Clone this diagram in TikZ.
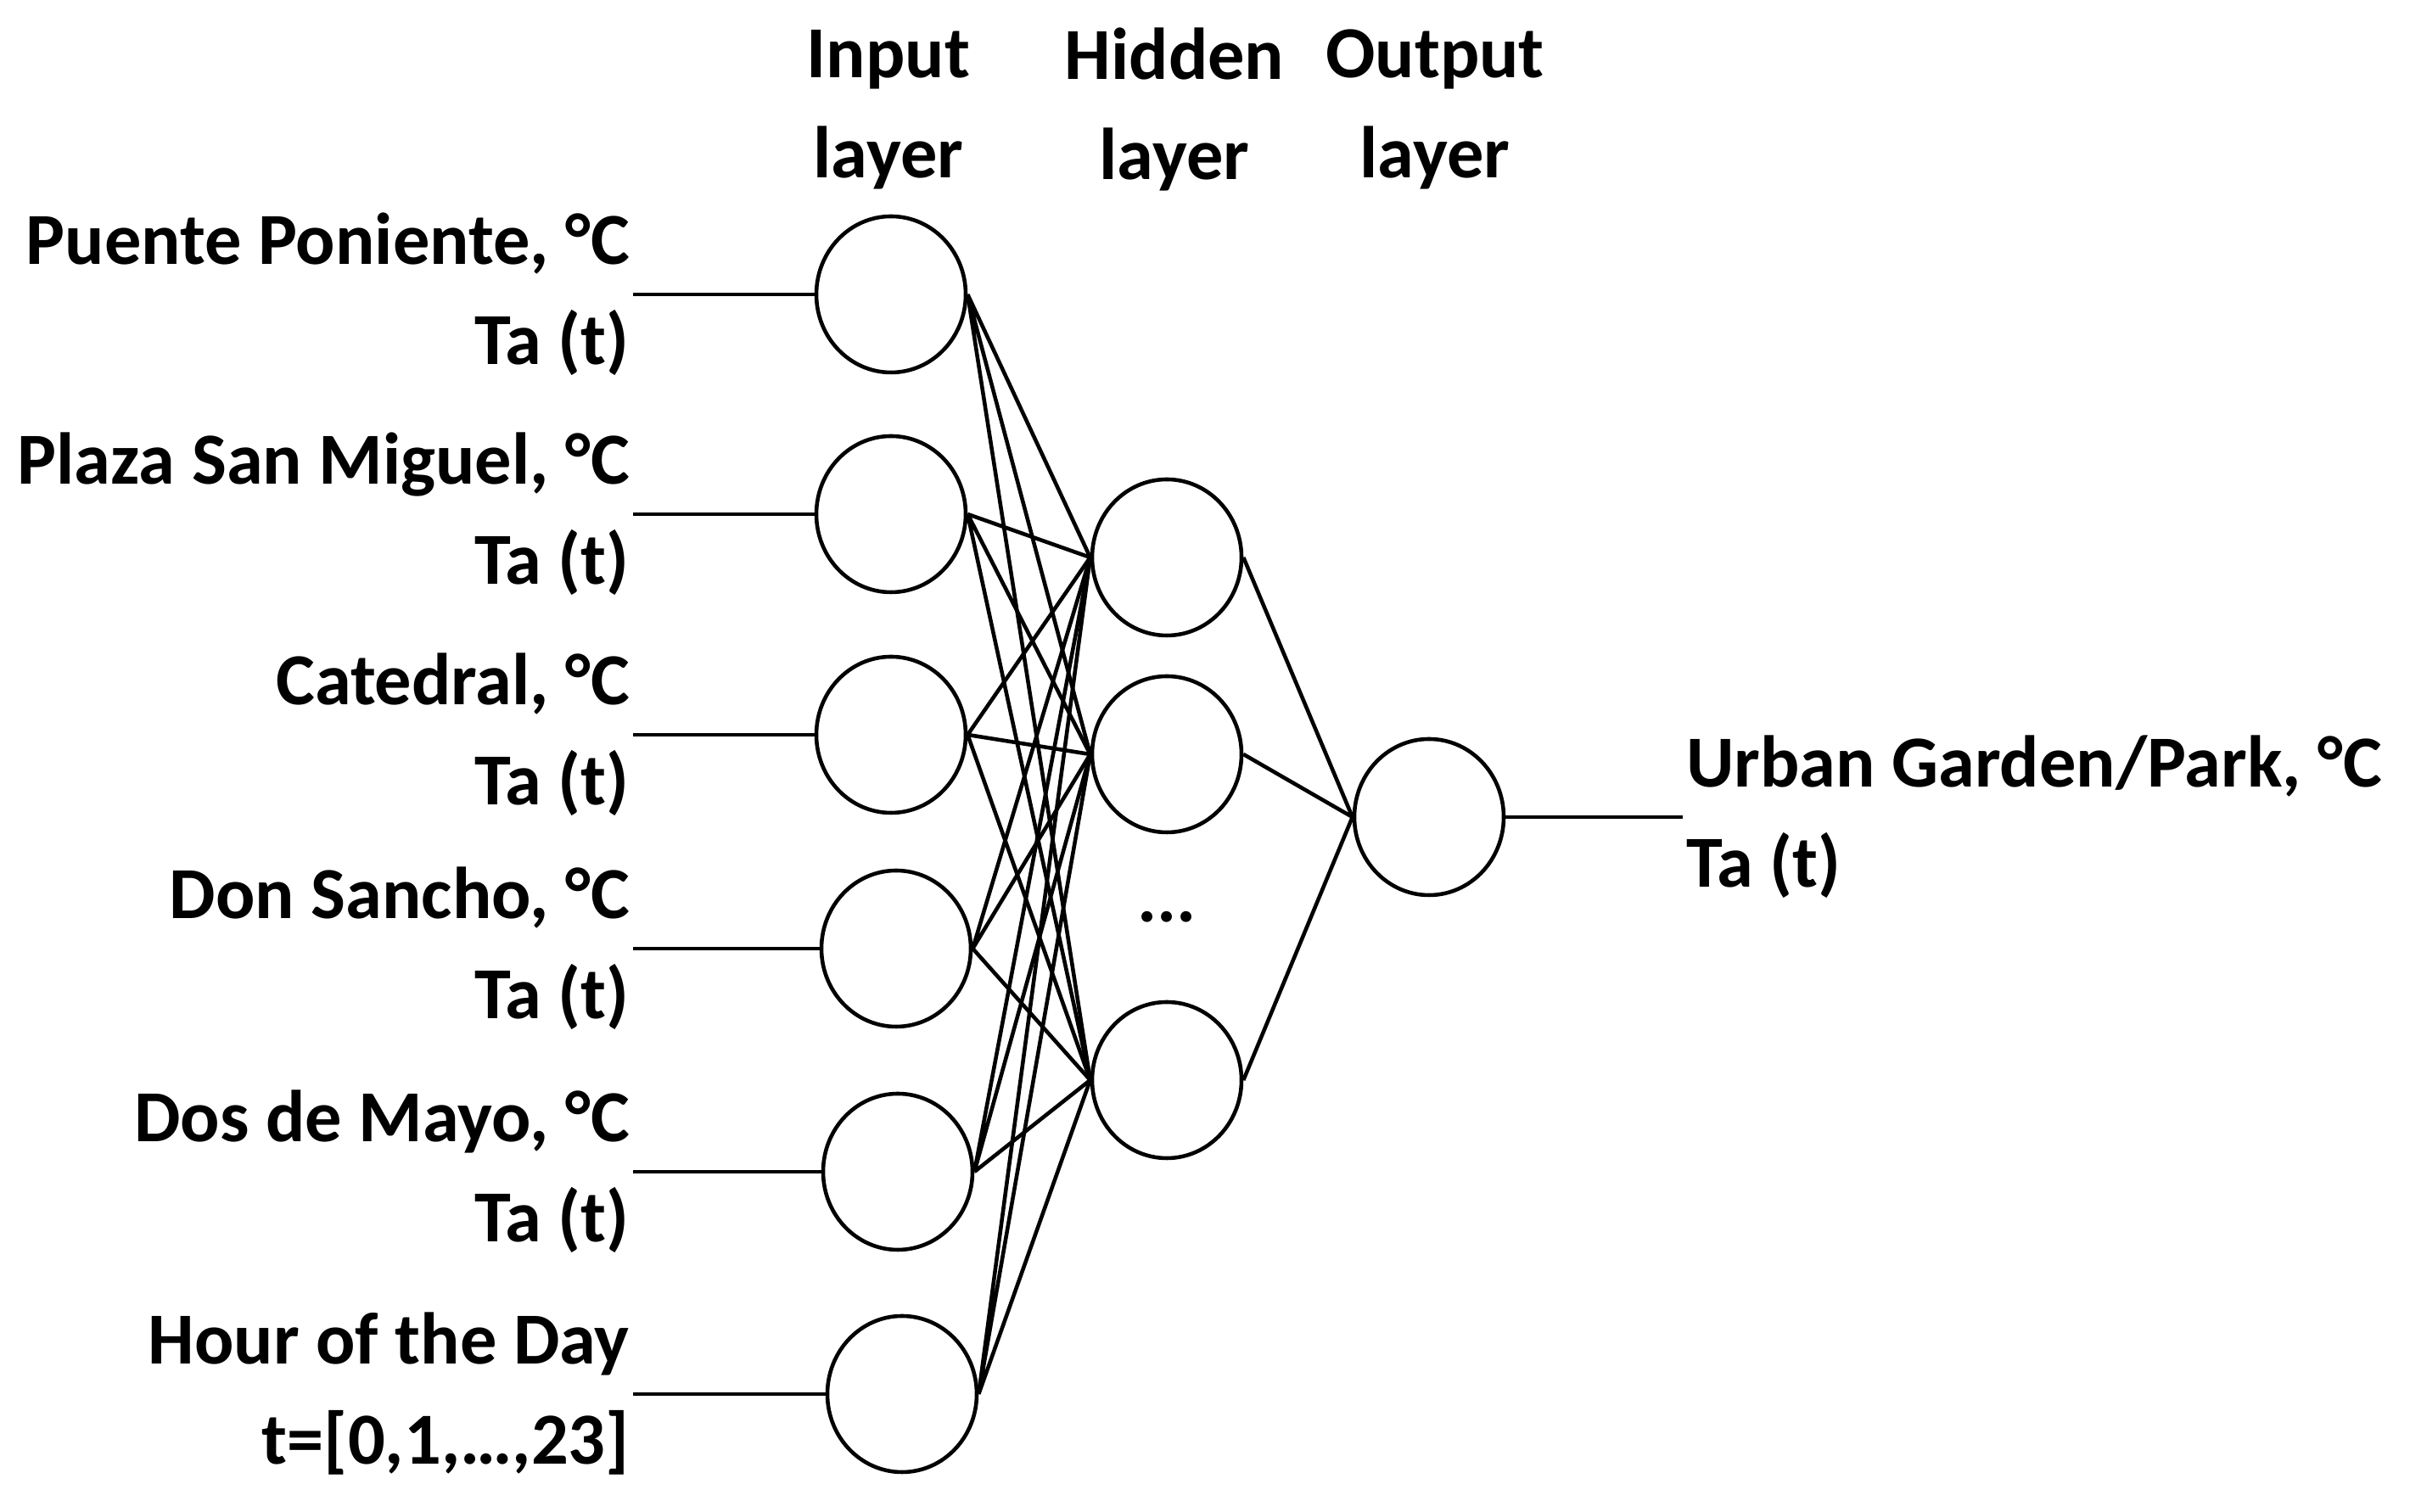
\documentclass[tikz,border=0pt]{standalone}
\usepackage{fontspec}
\setmainfont{Carlito}
\usetikzlibrary{shapes.geometric}
\tikzset{neuron/.style={draw,ellipse,line width=1.3pt,minimum width=1.76cm,minimum height=1.84cm,inner sep=0pt},
  lbl/.style={font=\fontsize{24.6}{33.6}\selectfont\bfseries,inner sep=1pt},
  wire/.style={line width=1.3pt}}
\begin{document}
\begin{tikzpicture}
\useasboundingbox (0,0) rectangle (28.4,17.82);
%titles
\draw (10.47,16.53) node[lbl,align=center] {Input\\layer};
\draw (13.84,16.53) node[lbl,align=center] {Hidden\\layer};
\draw (16.91,16.53) node[lbl,align=center] {Output\\layer};

%input layer
\node[neuron] (in1) at (10.50,14.35) {};
\node[neuron] (in2) at (10.50,11.76) {};
\node[neuron] (in3) at (10.50,9.16) {};
\node[neuron] (in4) at (10.56,6.64) {};
\node[neuron] (in5) at (10.58,4.01) {};
\node[neuron] (in6) at (10.63,1.39) {};

\coordinate (s1) at (7.46,14.35);
\coordinate (s2) at (7.46,11.76);
\coordinate (s3) at (7.46,9.16);
\coordinate (s4) at (7.46,6.64);
\coordinate (s5) at (7.46,4.01);
\coordinate (s6) at (7.46,1.39);

\node[lbl,anchor=east,align=right] (l1) at (s1) {Puente Poniente, °C\\Ta (t)};
\node[lbl,anchor=east,align=right] (l2) at (s2) {Plaza San Miguel, °C\\Ta (t)};
\node[lbl,anchor=east,align=right] (l3) at (s3) {Catedral, °C\\Ta (t)};
\node[lbl,anchor=east,align=right] (l4) at (s4) {Don Sancho, °C\\Ta (t)};
\node[lbl,anchor=east,align=right] (l5) at (s5) {Dos de Mayo, °C\\Ta (t)};
\node[lbl,anchor=east,align=right] (l6) at (s6) {Hour of the Day\\t=[0,1,…,23]};

\draw[wire] (s1) -- (in1.west);
\draw[wire] (s2) -- (in2.west);
\draw[wire] (s3) -- (in3.west);
\draw[wire] (s4) -- (in4.west);
\draw[wire] (s5) -- (in5.west);
\draw[wire] (s6) -- (in6.west);

%hidden layer
\node[neuron] (hid1) at (13.75,11.25) {};
\node[neuron] (hid2) at (13.75,8.93) {};
\node[neuron] (hid3) at (13.75,5.09) {};
\node[lbl] (dots) at (13.75,7.01) {...};

\draw[wire] (in1.east) -- (hid1.west) (in1.east) -- (hid2.west) (in1.east) -- (hid3.west);
\draw[wire] (in2.east) -- (hid1.west) (in2.east) -- (hid2.west) (in2.east) -- (hid3.west);
\draw[wire] (in3.east) -- (hid1.west) (in3.east) -- (hid2.west) (in3.east) -- (hid3.west);
\draw[wire] (in4.east) -- (hid1.west) (in4.east) -- (hid2.west) (in4.east) -- (hid3.west);
\draw[wire] (in5.east) -- (hid1.west) (in5.east) -- (hid2.west) (in5.east) -- (hid3.west);
\draw[wire] (in6.east) -- (hid1.west) (in6.east) -- (hid2.west) (in6.east) -- (hid3.west);

%output layer
\node[neuron] (out) at (16.84,8.19) {};
\draw[wire] (hid1.east) -- (out.west) (hid2.east) -- (out.west) (hid3.east) -- (out.west);

\coordinate (e) at (19.83,8.19);
\draw[wire] (out.east) -- (e);
\node[lbl,anchor=west,align=left] (lout) at (e) {Urban Garden/Park, °C\\Ta (t)};
\end{tikzpicture}
\end{document}
